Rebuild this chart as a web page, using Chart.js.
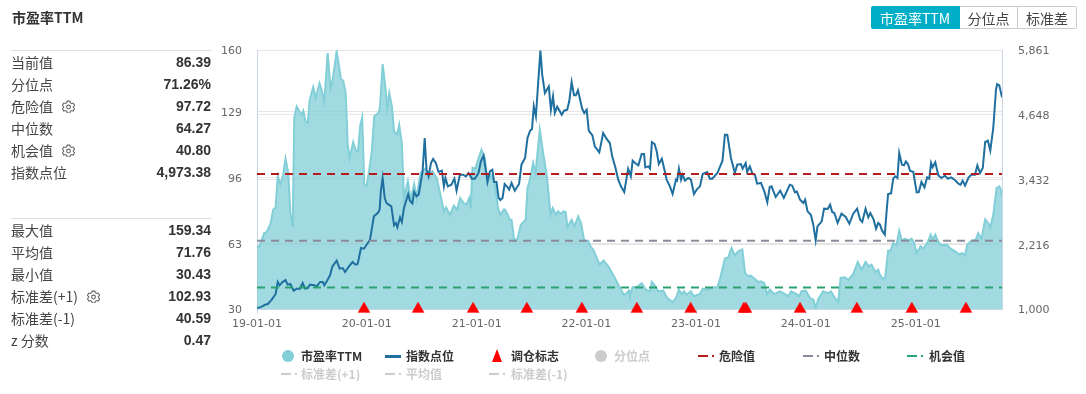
<!DOCTYPE html>
<html>
<head>
<meta charset="utf-8">
<title>市盈率TTM</title>
<script src="https://cdn.jsdelivr.net/npm/chart.js@4/dist/chart.umd.js"></script>
<style>
  html, body { margin: 0; padding: 0; background: #fff; }
  body { width: 1086px; height: 394px; position: relative; overflow: hidden; font-family: "Noto Sans CJK SC", "Liberation Sans", sans-serif; color: #333; }
  #chart { position: absolute; left: 0; top: 0; }
  .title { position: absolute; left: 12px; top: 7px; font-size: 14px; line-height: 20px; font-weight: 700; }
  .btns { position: absolute; left: 871px; top: 6px; height: 23px; width: 206px; display: flex; font-size: 14px; line-height: 23px; text-align: center; }
  .btns div { box-sizing: border-box; border: 1px solid #ccc; border-left: 0; color: #444; }
  .btns div.on { background: #00aec7; border-color: #00aec7; color: #fff; border-radius: 2px 0 0 2px; width: 89px; }
  .btns div:nth-child(2) { width: 58px; }
  .btns div:nth-child(3) { width: 59px; border-radius: 0 2px 2px 0; }
  .panel { position: absolute; left: 11px; width: 200px; border-top: 1px solid #ddd; font-size: 14px; }
  .row { height: 22px; line-height: 22px; display: flex; justify-content: space-between; color: #444; }
  .row b { font-family: "Liberation Sans", sans-serif; color: #333; }
  .row svg { vertical-align: -1px; margin-left: 9px; }
  .leg { position: absolute; font-size: 12px; line-height: 16px; font-weight: 700; white-space: nowrap; color: #333; }
  .leg.off { color: #ccc; }
  .ico { position: absolute; }
</style>
</head>
<body>
<canvas id="chart" width="1086" height="394"></canvas>
<div class="title">市盈率TTM</div>
<div class="btns"><div class="on">市盈率TTM</div><div>分位点</div><div>标准差</div></div>
<div class="panel" id="stats1" style="top:50px"></div>
<div class="panel" id="stats2" style="top:218px"></div>
<div id="legend"></div>
<script>
// days counted from 2019-01-01
const xTickDays = [0, 365, 731, 1096, 1461, 1826, 2192];
const xTickLabels = ['19-01-01', '20-01-01', '21-01-01', '22-01-01', '23-01-01', '24-01-01', '25-01-01'];
const peTicks = [30, 63, 96, 129, 160];
const idxTicks = [1000, 2216, 3432, 4648, 5861];
const idxTickLabels = ['1,000', '2,216', '3,432', '4,648', '5,861'];
const lastDay = 2479;

const peDays = [0, 7, 16, 24, 32, 45, 54, 62, 69, 78, 87, 95, 104, 111, 119, 124, 132, 141, 149, 154, 162, 169, 175, 187, 195, 208, 215, 224, 235, 245, 251, 265, 274, 279, 287, 295, 302, 308, 320, 329, 336, 343, 350, 357, 365, 373, 382, 390, 404,
  409, 418, 425, 434, 440, 449, 456, 467, 473, 482, 489, 502, 511, 523, 531, 544, 559, 571, 584, 598, 609, 622, 629, 642, 655, 666, 676, 688, 697, 706, 711, 717, 726, 736, 747, 758, 766, 777, 792, 802, 810, 821,
  825, 834, 841, 847, 856, 867, 878, 894, 900, 908, 919, 927, 941, 953, 964, 977, 984, 994, 1002, 1011, 1020, 1027, 1033, 1047, 1056, 1069, 1078, 1089, 1102, 1111, 1119, 1140, 1153, 1169, 1185, 1208, 1222, 1238,
  1241, 1250, 1265, 1280, 1294, 1308, 1314, 1328, 1335, 1352, 1365, 1383, 1394, 1404, 1413, 1421, 1430, 1443, 1454, 1474, 1483, 1498, 1518, 1532, 1543, 1557, 1568, 1579, 1590, 1601, 1615, 1624, 1635, 1642, 1660,
  1666, 1677, 1688, 1697, 1707, 1721, 1740, 1757, 1768, 1777, 1796, 1804, 1812, 1826, 1840, 1852, 1859, 1868, 1884, 1899, 1910, 1921, 1934, 1942, 1956, 1968, 1984, 1999, 2012, 2025, 2036, 2045, 2058, 2067,
  2073, 2082, 2090, 2100, 2108, 2117, 2128, 2137, 2146, 2157, 2167, 2178, 2187, 2195, 2208, 2217, 2230, 2242, 2248, 2257, 2267, 2278, 2295, 2308, 2323, 2337, 2346, 2355, 2364, 2378, 2392, 2400, 2411, 2423, 2433, 2440, 2450, 2461, 2470, 2474, 2479];
const peValues = [61.5, 61.1, 64.8, 68.1, 68.6, 72.8, 79.9, 81, 96.6, 92.4, 97.4, 105.5, 98.3, 78.2, 71.2, 125.9, 131.6, 129.2, 127.5, 129.5, 123.9, 123.5, 134.6, 141.3, 135.9, 143.3, 140.1, 133.9, 158.5, 140.6, 144.3, 159.3, 151, 145.6, 144.6, 138.4, 112.5, 105.8, 113.8, 109.5, 109.1, 121.7, 126.2, 92.4, 91.9, 99.4, 109.1, 126.7, 128.4,
  130.9, 153, 144.3, 130.9, 138.4, 131.7, 119.2, 117.8, 122.5, 113.3, 85.7, 94.1, 84.9, 92.7, 85.7, 98.3, 100.4, 97.4, 99.1, 95.7, 88.2, 79, 81, 77.3, 81.9, 79.9, 85.7, 83.2, 82.4, 85.7, 80.4, 100.8, 100.4, 105, 110, 105.8, 94.9, 97.4, 92.4, 80.7, 77.3, 79.9,
  79.9, 77.3, 74.8, 74.8, 64.3, 65.3, 72.3, 74.8, 90.7, 94.9, 103.3, 98.3, 120, 107.5, 97.4, 77.3, 80.7, 77.3, 79, 77.7, 79, 78.7, 71, 74.8, 71.5, 76.5, 73.2, 64.3, 64.3, 61, 59.8, 52.3, 54.3, 51.4, 47.2, 40.5, 36.9, 39.2,
  37.2, 40.9, 41.2, 43, 39.7, 38.9, 43.6, 40.9, 38.9, 39.2, 35.5, 33.5, 35.5, 39.7, 37.5, 38.9, 37.2, 38.9, 36.4, 37.5, 40.2, 39.7, 40.9, 40.9, 46.4, 55.3, 55.9, 60.6, 56.9, 58.9, 59.9, 48.1, 46.4, 46.9, 44.7,
  43.6, 43.9, 43, 37.5, 39.7, 37.5, 38.9, 37.5, 36.4, 38.9, 37.5, 36.4, 38.9, 39.2, 35.5, 34.7, 30.5, 35.2, 38.9, 38, 38.9, 35.9, 33.8, 45.6, 45.9, 44.7, 47.6, 53.6, 49.7, 53.6, 51.4, 52.3, 48.6, 49.7,
  47.2, 45.2, 45.6, 59.3, 59.3, 63.1, 62, 69.3, 64.3, 65.3, 64.3, 65.3, 63.1, 58.1, 61.5, 60.3, 63.1, 67.3, 64.8, 67.3, 63.6, 62, 62.3, 60.3, 58.9, 57.3, 58.1, 56.9, 62.3, 64.3, 64.8, 68.1, 65.3, 75, 73.2, 71, 77.3, 90.7, 91.6, 90.7, 86.39];

const idxDays = [0, 9, 16, 27, 36, 49, 62, 69, 75, 84, 95, 102, 111, 122, 132, 143, 152, 160, 169, 176, 191, 199, 210, 219, 224, 235, 243, 251, 265, 275, 285, 293, 306, 318, 328, 335, 346, 356, 376, 389, 402, 408, 412,
  418, 425, 431, 447, 456, 462, 467, 476, 482, 489, 503, 509, 517, 523, 531, 538, 551, 558, 564, 571, 579, 586, 595, 604, 615, 622, 627, 635, 647, 657, 664, 675, 686, 695, 704, 715, 725, 737, 745, 754, 762, 767, 775, 783, 789, 797, 804, 810, 817, 824,
  834, 839, 847, 858, 872, 880, 892, 900, 909, 915, 921, 928, 943, 949, 958, 971, 978, 985, 991, 999, 1014, 1022, 1032, 1039, 1047, 1055, 1061, 1068, 1082, 1089, 1097, 1104, 1116, 1124, 1139, 1152, 1163, 1174, 1182, 1193, 1202, 1211, 1222, 1235, 1244,
  1250, 1258, 1269, 1280, 1288, 1292, 1302, 1308, 1314, 1323, 1330, 1337, 1347, 1357, 1363, 1374, 1383, 1394, 1398, 1404, 1411, 1416, 1424, 1435, 1444, 1454, 1463, 1474, 1483, 1498, 1507, 1515, 1532, 1549, 1557, 1565, 1577, 1590, 1598, 1610, 1616, 1626, 1631, 1640, 1649,
  1657, 1664, 1677, 1688, 1698, 1706, 1712, 1726, 1741, 1753, 1773, 1781, 1790, 1796, 1807, 1818, 1824, 1832, 1843, 1851, 1859, 1865, 1879, 1887, 1899, 1907, 1914, 1921, 1932, 1945, 1959, 1971, 1984, 1997, 2007, 2014, 2025, 2034, 2041, 2052, 2060, 2067,
  2073, 2080, 2089, 2095, 2100, 2110, 2117, 2124, 2131, 2137, 2146, 2153, 2159, 2166, 2173, 2184, 2195, 2202, 2211, 2221, 2230, 2237, 2243, 2248, 2257, 2267, 2277, 2289, 2299, 2310, 2321, 2335, 2341, 2348, 2356, 2368, 2377, 2389, 2397, 2406, 2415, 2423, 2432, 2440, 2450, 2459, 2463, 2470, 2479];
const idxValues = [1019, 1031, 1044, 1081, 1094, 1175, 1282, 1507, 1444, 1500, 1544, 1457, 1469, 1344, 1382, 1382, 1488, 1382, 1394, 1457, 1444, 1425, 1507, 1507, 1444, 1551, 1632, 1801, 1907, 1757, 1769, 1694, 1801, 1882, 1832, 1845, 2145, 2132, 2301, 2739, 2802, 2864, 3208,
  3459, 3083, 2989, 2927, 2570, 2614, 2533, 2720, 2633, 2896, 3158, 3033, 2983, 3196, 3115, 3146, 3584, 4209, 3615, 3490, 3740, 3815, 3740, 3571, 3596, 3302, 3459, 3302, 3333, 3446, 3221, 3521, 3521, 3490, 3552, 3446, 3446, 3552, 3771, 3878, 3584, 3384, 3584, 3615, 3384, 3384, 3083, 3046, 3083, 3346,
  3283, 3240, 3365, 3221, 3346, 3709, 3834, 4209, 4347, 4378, 4804, 4616, 5848, 5398, 5054, 5179, 4741, 4991, 4679, 4797, 4647, 4722, 4741, 4897, 5260, 5010, 5010, 5104, 4760, 4679, 4741, 4347, 4259, 4053, 3940, 4303, 4197, 4115, 3865, 3646, 3427, 3302, 3196, 3634, 3490,
  3784, 3740, 3696, 3909, 3909, 3659, 3678, 3634, 4134, 4097, 3959, 3721, 3821, 3584, 3427, 3302, 3158, 3427, 3409, 3634, 3427, 3521, 3409, 3459, 3427, 3158, 3240, 3302, 3534, 3571, 3446, 3446, 3552, 3784, 4272, 4272, 3834, 3552, 3709, 3721, 3634, 3740, 3571, 3678, 3534,
  3521, 3352, 3365, 3208, 3002, 3290, 3302, 3102, 3221, 3083, 3333, 3315, 3190, 3208, 3052, 2989, 3052, 2833, 2770, 2583, 2289, 2551, 2645, 2883, 2877, 2958, 2820, 2802, 2614, 2789, 2727, 2602, 2789, 2883, 2677, 2633, 2883, 2720, 2802, 2677, 2508, 2614,
  2583, 2470, 2395, 2833, 3158, 3171, 3446, 3490, 3459, 3928, 3709, 3696, 3771, 3721, 3596, 3571, 3190, 3196, 3384, 3283, 3471, 3446, 3740, 3659, 3753, 3509, 3459, 3502, 3446, 3471, 3427, 3346, 3333, 3409, 3315, 3471, 3521, 3521, 3696, 3552, 3646, 4134, 4159, 3972, 4397, 5116, 5223, 5198, 4973.38];

const markDays = [356, 536, 719, 898, 1081, 1264, 1443, 1620, 1627, 1807, 1996, 2179, 2359];
const markValues = [30, 30, 30, 30, 30, 30, 30, 30, 30, 30, 30, 30, 30];

const lineEnds = [0, lastDay];
const dangerValues = [97.72, 97.72];
const medianValues = [64.27, 64.27];
const chanceValues = [40.8, 40.8];

const statsTop = [['当前值', '86.39'], ['分位点', '71.26%'], ['危险值', '97.72', 1], ['中位数', '64.27'], ['机会值', '40.80', 1], ['指数点位', '4,973.38']];
const statsBottom = [['最大值', '159.34'], ['平均值', '71.76'], ['最小值', '30.43'], ['标准差(+1)', '102.93', 1], ['标准差(-1)', '40.59'], ['z 分数', '0.47']];

const gear = '<svg width="13" height="13" viewBox="0 0 24 24" fill="none" stroke="#666" stroke-width="2"><path d="M9.5 2h5l.7 3 2.6 1.5 3-.9 2.4 4.3-2.2 2.1v2l2.2 2.1-2.4 4.3-3-.9-2.6 1.5-.7 3h-5l-.7-3-2.6-1.5-3 .9L.8 16.1 3 14v-2L.8 9.9l2.4-4.3 3 .9L8.8 5z"/><circle cx="12" cy="13" r="3.5"/></svg>';

function fillStats(id, rows) {
  document.getElementById(id).innerHTML = rows.map(r =>
    `<div class="row"><span>${r[0]}${r[2] ? gear : ''}</span><b>${r[1]}</b></div>`).join('');
}
fillStats('stats1', statsTop);
fillStats('stats2', statsBottom);

// legend is laid out by hand because it wraps into two uneven rows
const legendItems = [
  ['市盈率TTM', 301, 356, 'dot', 288, '#82cfd8', false],
  ['指数点位', 406, 356, 'line', 385, '#1f6f9f', false],
  ['调仓标志', 511, 356, 'tri', 492, '#f00', false],
  ['分位点', 614, 356, 'dot', 601, '#ccc', true],
  ['危险值', 719, 356, 'dash', 698, '#b71c1c', false],
  ['中位数', 824, 356, 'dash', 803, '#8a8d99', false],
  ['机会值', 929, 356, 'dash', 907, '#2aa26f', false],
  ['标准差(+1)', 301, 374, 'dash', 281, '#ccc', true],
  ['平均值', 406, 374, 'dash', 385, '#ccc', true],
  ['标准差(-1)', 511, 374, 'dash', 489, '#ccc', true]
];
document.getElementById('legend').innerHTML = legendItems.map(([text, tx, y, kind, ix, color, off]) => {
  let ico = '';
  if (kind === 'dot') ico = `<div class="ico" style="left:${ix - 6}px;top:${y - 6}px;width:12px;height:12px;border-radius:50%;background:${color}"></div>`;
  if (kind === 'line') ico = `<div class="ico" style="left:${ix}px;top:${y - 1}px;width:16px;height:3px;background:${color}"></div>`;
  if (kind === 'tri') ico = `<div class="ico" style="left:${ix}px;top:${y - 7}px;width:0;height:0;border-left:5px solid transparent;border-right:5px solid transparent;border-bottom:13px solid ${color}"></div>`;
  if (kind === 'dash') ico = `<div class="ico" style="left:${ix}px;top:${y - 1}px;width:10px;height:2px;background:${color}"></div><div class="ico" style="left:${ix + 14}px;top:${y - 1}px;width:2px;height:2px;background:${color}"></div>`;
  return ico + `<div class="leg${off ? ' off' : ''}" style="left:${tx}px;top:${y - 8}px">${text}</div>`;
}).join('');

const toPoints = (xs, ys) => xs.map((x, i) => ({ x: x, y: ys[i] }));
const refLine = (values, color) => ({
  data: toPoints(lineEnds, values),
  yAxisID: 'y',
  borderColor: color,
  borderWidth: 2,
  borderDash: [8, 6],
  pointRadius: 0
});
const tickFont = { size: 11, family: '"DejaVu Sans", sans-serif' };
// empty first line + tiny line height nudges the y labels down onto their gridlines
const yTickFont = { size: 11, family: '"DejaVu Sans", sans-serif', lineHeight: '3px' };

new Chart(document.getElementById('chart').getContext('2d'), {
  type: 'line',
  data: {
    datasets: [
      { data: toPoints(markDays, markValues), yAxisID: 'y', showLine: false, pointStyle: 'triangle', pointRadius: 7, pointBackgroundColor: '#f00', pointBorderColor: 'rgba(255,0,0,0.3)', pointBorderWidth: 1, clip: false, order: 0 },
      Object.assign(refLine(dangerValues, '#b71c1c'), { order: 1 }),
      Object.assign(refLine(medianValues, '#8a8d99'), { order: 1 }),
      Object.assign(refLine(chanceValues, '#2aa26f'), { order: 1 }),
      { data: toPoints(idxDays, idxValues), yAxisID: 'y1', borderColor: '#1f6f9f', borderWidth: 2, pointRadius: 0, order: 2 },
      { data: toPoints(peDays, peValues), yAxisID: 'y', borderColor: '#82cfd8', backgroundColor: 'rgba(130,205,215,0.75)', borderWidth: 2, pointRadius: 0, fill: 'origin', order: 3 }
    ]
  },
  options: {
    responsive: false,
    animation: false,
    layout: { padding: { top: 50 } },
    plugins: { legend: { display: false }, tooltip: { enabled: false } },
    scales: {
      x: {
        type: 'linear',
        min: 0,
        max: lastDay,
        afterBuildTicks: s => { s.ticks = xTickDays.map(v => ({ value: v })); },
        afterFit: s => { s.height = 85; },
        border: { color: '#c9d6e8' },
        grid: { drawOnChartArea: false, tickColor: '#c9d6e8', tickLength: 5 },
        ticks: { autoSkip: false, maxRotation: 0, padding: 4, color: '#666', font: tickFont, callback: (v, i) => xTickLabels[i] }
      },
      y: {
        position: 'left',
        min: 30,
        max: 160,
        afterBuildTicks: s => { s.ticks = peTicks.map(v => ({ value: v })); },
        afterFit: s => { s.width = 257; },
        border: { color: '#c9d6e8' },
        grid: { color: '#e6e6e6', drawTicks: false },
        ticks: { padding: 15, color: '#666', font: yTickFont, callback: v => ['', String(v)] }
      },
      y1: {
        position: 'right',
        min: 1000,
        max: 5861,
        afterBuildTicks: s => { s.ticks = idxTicks.map(v => ({ value: v })); },
        afterFit: s => { s.width = 84; },
        border: { color: '#c9d6e8' },
        grid: { color: '#e6e6e6', drawTicks: false },
        ticks: { padding: 16, color: '#666', font: yTickFont, callback: (v, i) => ['', idxTickLabels[i]] }
      }
    }
  }
});
</script>
</body>
</html>
